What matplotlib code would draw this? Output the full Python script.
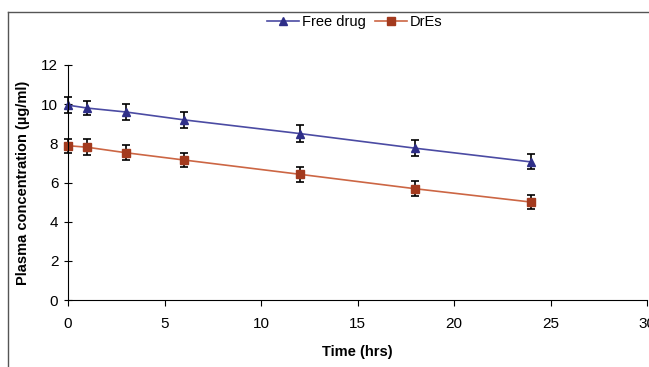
import matplotlib.pyplot as plt
from matplotlib.lines import Line2D

plt.rcParams['font.family'] = ['Liberation Sans Narrow', 'Liberation Sans', 'DejaVu Sans']

# data
time = [0, 1, 3, 6, 12, 18, 24]
free_drug = [9.95, 9.8, 9.6, 9.2, 8.5, 7.75, 7.05]
free_err = [0.4, 0.35, 0.4, 0.4, 0.42, 0.4, 0.38]
dres = [7.88, 7.8, 7.52, 7.15, 6.42, 5.68, 5.0]
dres_err = [0.35, 0.4, 0.38, 0.38, 0.38, 0.38, 0.36]

blue_line, blue_mark = '#4b4ba3', '#2e2e88'
red_line, red_mark = '#cc6644', '#a33a1e'

fig = plt.figure(figsize=(6.49, 3.67), dpi=100)
ax = fig.add_axes([68/649, 67/367, 579/649, 235/367])

for y, err, lc, mc, m, ms in [(free_drug, free_err, blue_line, blue_mark, '^', 6),
                              (dres, dres_err, red_line, red_mark, 's', 5.5)]:
    eb = ax.errorbar(time, y, yerr=err, color=lc, lw=1.2, marker=m, ms=ms, mfc=mc, mec=mc,
                     ecolor='black', elinewidth=1.2, capsize=3, capthick=1.2)
    for art in eb.lines[1] + eb.lines[2] + (eb.lines[0],):
        art.set_clip_on(False)

ax.set_xlim(0, 30)
ax.set_ylim(0, 12)
ax.set_xticks([0, 5, 10, 15, 20, 25, 30])
ax.set_yticks([0, 2, 4, 6, 8, 10, 12])
ax.spines['top'].set_visible(False)
ax.spines['right'].set_visible(False)
ax.tick_params(axis='y', direction='inout', length=6, labelsize=11, pad=4)
ax.tick_params(axis='x', direction='out', length=4, labelsize=11, pad=8)
ax.set_xlabel('Time (hrs)', fontsize=10.5, fontweight='bold', labelpad=10)
ax.set_ylabel('Plasma concentration (µg/ml)', fontsize=10.5, fontweight='bold', labelpad=8)

handles = [Line2D([], [], color=blue_line, lw=1.2, marker='^', ms=6, mfc=blue_mark, mec=blue_mark),
           Line2D([], [], color=red_line, lw=1.2, marker='s', ms=5.5, mfc=red_mark, mec=red_mark)]
fig.legend(handles, ['Free drug', 'DrEs'], loc='center', bbox_to_anchor=(355/649, 1 - 22/367),
           ncol=2, frameon=False, fontsize=10.5, handlelength=2.2, handletextpad=0.2,
           columnspacing=0.6)

# outer frame
fig.add_artist(Line2D([8/649, 8/649], [0, 1 - 12/367], transform=fig.transFigure, color='#555555', lw=1))
fig.add_artist(Line2D([8/649, 1], [1 - 12/367, 1 - 12/367], transform=fig.transFigure, color='#555555', lw=1))

fig.savefig('out.png', dpi=100)
